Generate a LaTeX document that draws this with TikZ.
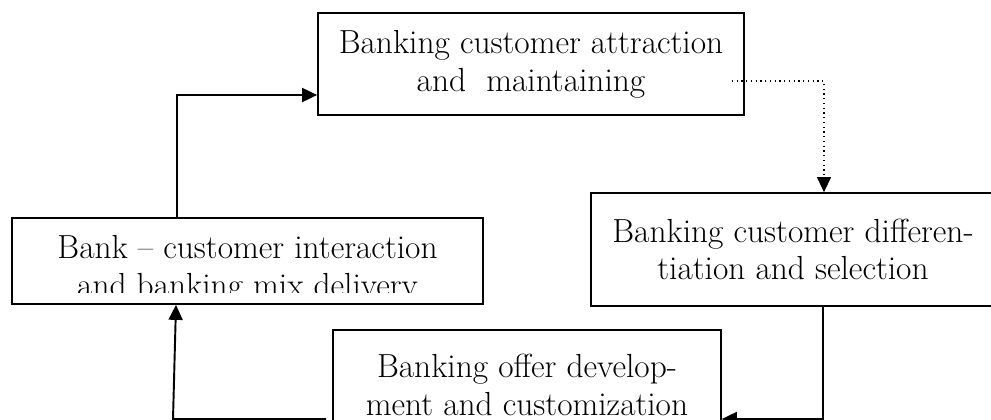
\documentclass[tikz,border=0pt]{standalone}
\usepackage{fontspec}
\usepackage{tikz}
\usetikzlibrary{arrows.meta}

\tikzset{
    box/.style={draw, line width=1pt, inner sep=0pt, align=center, font=\fontsize{19}{21.5}\selectfont},
    flow/.style={line width=1.1pt, -{Triangle[length=0.3cm,width=0.28cm]}},
    dotflow/.style={line width=0.7pt, dotted, -{Triangle[length=0.3cm,width=0.28cm]}}
}

\begin{document}
\begin{tikzpicture}
        \clip (0,0) rectangle (19.82,-8.4);

        \node[box, minimum width=8.52cm, minimum height=2.04cm] (attract) at (10.62,-1.28) {Banking customer attraction\\and\ \ maintaining};
        \node[box, minimum width=9.42cm, minimum height=1.72cm] (deliver) at (4.95,-5.22) {};
        \node[box, minimum width=8.08cm, minimum height=2.26cm] (select) at (15.86,-4.99) {Banking customer differen-\\tiation and selection};
        \node[box, minimum width=7.76cm, minimum height=2.2cm] (offer) at (10.54,-7.70) {Banking offer develop-\\ment and customization};

        % text of the left box runs past its lower edge
        \begin{scope}
            \clip (deliver.north west) rectangle ([yshift=0.24cm]deliver.south east);
            \node[box, draw=none] (delivertext) at ([yshift=-0.17cm]deliver.center) {Bank -- customer interaction\\and banking mix delivery};
        \end{scope}

        \coordinate (upturn) at (3.54,-1.9);
        \coordinate (dotstart) at (14.64,-1.62);
        \coordinate (dotturn) at (16.48,-1.62);
        \coordinate (downturn) at (16.46,-8.38);
        \coordinate (leftturn) at (3.46,-8.38);
        \coordinate (lefttop) at (3.52,0);

        \draw[flow] (deliver.north -| upturn) -- (upturn) -- (upturn -| attract.west);
        \draw[dotflow] (dotstart) -- (dotturn) -- (dotturn |- select.north);
        \draw[flow] (select.south -| downturn) -- (downturn) -- (downturn -| offer.east);
        \draw[flow, shorten <=0.12cm] (offer.west |- leftturn) -- (leftturn) -- (deliver.south -| lefttop);
    \end{tikzpicture}
\end{document}
